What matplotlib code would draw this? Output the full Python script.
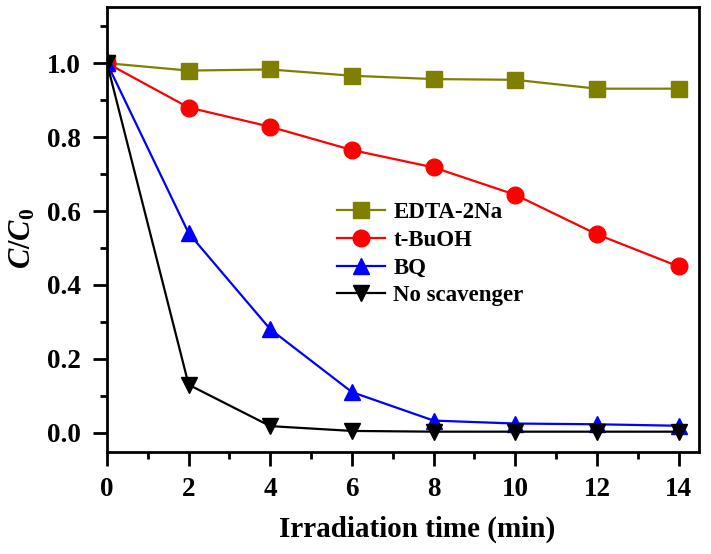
import matplotlib
matplotlib.use("Agg")
import matplotlib.pyplot as plt
from matplotlib.ticker import MultipleLocator

# data
time_min = [0, 2, 4, 6, 8, 10, 12, 14]
edta = [1.0, 0.980, 0.983, 0.966, 0.957, 0.955, 0.931, 0.931]
tbuoh = [1.0, 0.880, 0.828, 0.765, 0.718, 0.644, 0.537, 0.450]
bq = [1.0, 0.540, 0.280, 0.110, 0.033, 0.025, 0.023, 0.019]
no_scav = [1.0, 0.130, 0.018, 0.005, 0.003, 0.003, 0.003, 0.003]

plt.rcParams['font.family'] = ['Liberation Serif', 'DejaVu Serif']
plt.rcParams['font.weight'] = 'bold'
plt.rcParams['mathtext.fontset'] = 'custom'
plt.rcParams['mathtext.it'] = 'Liberation Serif:italic:bold'
plt.rcParams['mathtext.rm'] = 'Liberation Serif:bold'

fig = plt.figure(figsize=(7.11, 5.54), dpi=100)
ax = fig.add_axes([107/711, 1 - 452/554, (699 - 107)/711, (452 - 7)/554])

ms = 12
lw = 1.6
ax.plot(time_min, edta, color='#808000', marker='s', ms=ms - 1, lw=lw, label='EDTA-2Na')
ax.plot(time_min, tbuoh, color='#ff0000', marker='o', ms=ms, lw=lw, label='t-BuOH')
ax.plot(time_min, bq, color='#0000ff', marker='^', ms=ms, lw=lw, label='BQ')
ax.plot(time_min, no_scav, color='black', marker='v', ms=ms, lw=lw, label='No scavenger')

ax.set_xlim(0, 14.5)
ax.set_ylim(-0.052, 1.152)
ax.xaxis.set_major_locator(MultipleLocator(2))
ax.xaxis.set_minor_locator(MultipleLocator(1))
ax.yaxis.set_minor_locator(MultipleLocator(0.1))
ax.set_yticks([0.0, 0.2, 0.4, 0.6, 0.8, 1.0])
ax.set_yticklabels(['0.0', '0.2', '0.4', '0.6', '0.8', '1.0'])

for s in ax.spines.values():
    s.set_linewidth(2)
ax.tick_params(which='major', direction='out', length=10, width=2,
               labelsize=19.5)
ax.tick_params(axis='x', which='major', pad=8)
ax.tick_params(axis='y', which='major', pad=9)
ax.tick_params(which='minor', direction='out', length=5, width=2)
for lab in ax.get_xticklabels() + ax.get_yticklabels():
    lab.set_fontweight('bold')

ax.set_xlabel('Irradiation time (min)', fontsize=21, fontweight='bold')
ax.xaxis.set_label_coords(0.524, -0.143)
ax.set_ylabel(r'$C/C_0$', fontsize=22)
ax.yaxis.set_label_coords(-0.118, 0.479)

ax.legend(loc='upper left', bbox_to_anchor=(0.389, 0.5615), frameon=False,
          prop={'size': 16.5, 'weight': 'bold'}, handlelength=2.1,
          handletextpad=0.35, labelspacing=0.29, borderaxespad=0, borderpad=0)

fig.savefig('out.png', dpi=100)
